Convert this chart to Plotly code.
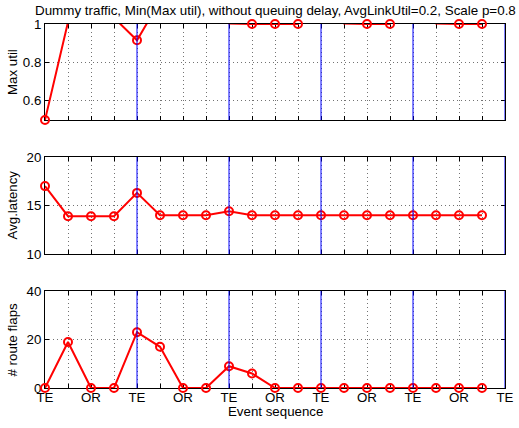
import plotly.graph_objects as go
from plotly.subplots import make_subplots

# ---- data ----
events = list(range(1, 21))
max_util = [0.5, 1.01, 1.15, 1.03, 0.915, 1.12, 1.2, 1.15, 1.003, 1.0,
            1.0, 1.0, 1.2, 1.003, 1.0, 1.0, 1.2, 1.003, 1.0, 1.0]
avg_latency = [17.0, 13.9, 13.9, 13.9, 16.3, 14.0, 14.0, 14.0, 14.4, 14.0,
               14.0, 14.0, 14.0, 14.0, 14.0, 14.0, 14.0, 14.0, 14.0, 14.0]
route_flaps = [0, 19, 0, 0, 23, 17, 0, 0, 9, 6,
               0, 0, 0, 0, 0, 0, 0, 0, 0, 0]
x_tickvals = list(range(1, 22))
x_ticklabels = ['TE', '', 'OR', '', 'TE', '', 'OR', '', 'TE', '', 'OR',
                '', 'TE', '', 'OR', '', 'TE', '', 'OR', '', 'TE']
te_boundaries = [5, 9, 13, 17, 21]

title = "Dummy traffic, Min(Max util), without queuing delay, AvgLinkUtil=0.2, Scale p=0.8"
y_titles = ["Max util", "Avg.latency", "# route flaps"]
y_ranges = [[0.5, 1.0], [10, 20], [0, 40]]
y_ticks = [[0.6, 0.8, 1.0], [10, 15, 20], [0, 20, 40]]
y_ticktext = [["0.6", "0.8", "1"], ["10", "15", "20"], ["0", "20", "40"]]
series = [max_util, avg_latency, route_flaps]

FONT = "Liberation Sans, Arial, Helvetica, sans-serif"
FS = 13.3
W, H = 519, 428
# target pixels of plot areas
left_px, right_px = 45, 505
px_domains = [(24, 120), (157, 254), (291, 388)]
ML = left_px
MR = W - right_px
MT = px_domains[0][0]
MB = H - px_domains[2][1]
plot_h = H - MT - MB
bottom_fig = H - MB
domains = [[(bottom_fig - b) / plot_h, (bottom_fig - t) / plot_h]
           for (t, b) in px_domains]

fig = make_subplots(rows=3, cols=1, shared_xaxes=False)

for i, ys in enumerate(series):
    r = i + 1
    fig.add_trace(go.Scatter(
        x=events, y=ys, mode="lines+markers",
        line=dict(color="#ff0000", width=2),
        marker=dict(symbol="circle-open", size=8, color="#ff0000",
                    line=dict(width=2, color="#ff0000")),
        cliponaxis=False, showlegend=False, hoverinfo="skip"), row=r, col=1)

    ax_common = dict(showline=True, linecolor="black", linewidth=1, mirror="ticks",
                     ticks="inside", ticklen=4, tickcolor="black", tickwidth=1,
                     showgrid=True, gridcolor="rgba(0,0,0,0.55)", griddash="1px,3px",
                     gridwidth=1, zeroline=False, layer="below traces",
                     automargin=False,
                     tickfont=dict(family=FONT, size=FS, color="black"))
    fig.update_xaxes(range=[1, 21], tickmode="array", tickvals=x_tickvals,
                     ticktext=x_ticklabels, showticklabels=(r == 3),
                     ticklabelstandoff=-3,
                     domain=[0, 1], **ax_common, row=r, col=1)
    fig.update_yaxes(range=y_ranges[i], tickmode="array", tickvals=y_ticks[i],
                     ticktext=y_ticktext[i], domain=domains[i],
                     **ax_common, row=r, col=1)

    xref = "x" if r == 1 else f"x{r}"
    yref = "y domain" if r == 1 else f"y{r} domain"
    for xb in te_boundaries:
        fig.add_shape(type="line", x0=xb, x1=xb, y0=0, y1=1, xref=xref, yref=yref,
                      line=dict(color="#0000ff", width=1), layer="above")

    fig.add_annotation(text=y_titles[i], xref="paper", yref=yref,
                       x=0, y=0.5, xshift=-33, textangle=-90, showarrow=False,
                       xanchor="center", yanchor="middle",
                       font=dict(family=FONT, size=FS, color="black"))

fig.add_annotation(text=title, xref="paper", yref="paper", x=0.5, y=1,
                   yshift=14, showarrow=False, xanchor="center", yanchor="middle",
                   font=dict(family=FONT, size=13.4, color="black"))
fig.add_annotation(text="Event sequence", xref="paper", yref="paper", x=0.5, y=0,
                   yshift=-23, showarrow=False, xanchor="center", yanchor="middle",
                   font=dict(family=FONT, size=FS, color="black"))

fig.update_layout(width=W, height=H, margin=dict(l=ML, r=MR, t=MT, b=MB),
                  paper_bgcolor="white", plot_bgcolor="white",
                  hovermode=False,
                  font=dict(family=FONT, size=FS, color="black"))

fig.write_html("out.html", config={"displayModeBar": False},
               post_script="document.body.style.margin='0';document.body.style.padding='0';")
